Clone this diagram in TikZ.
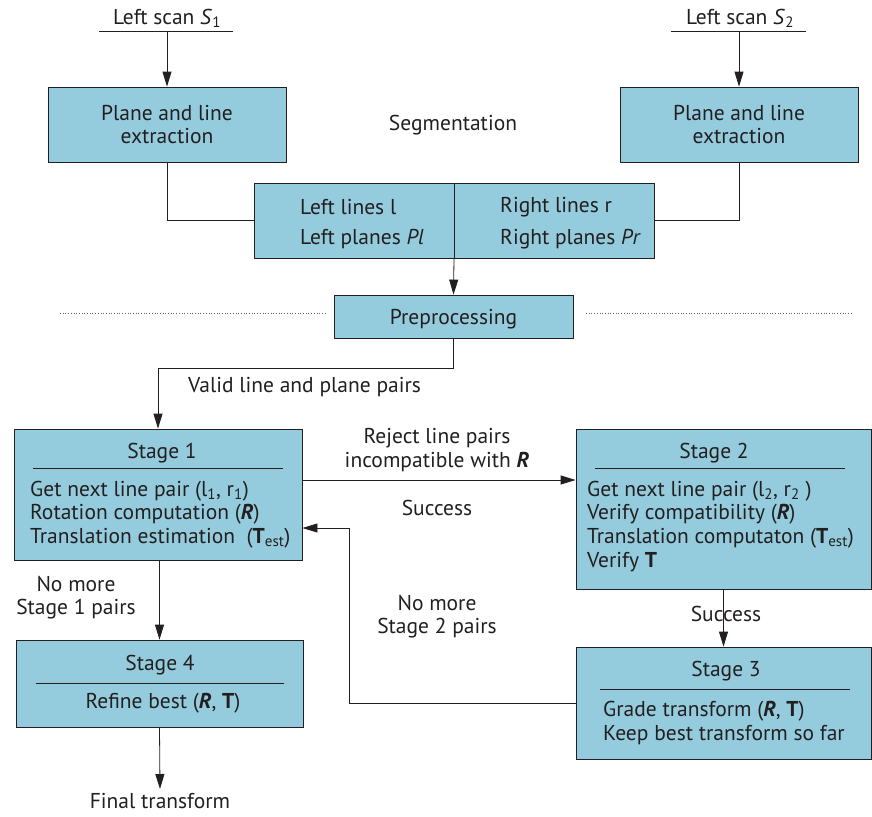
\documentclass[tikz,border=0pt]{standalone}
\usepackage{fontspec}
\setmainfont{PT Sans}
\usetikzlibrary{arrows.meta}
\definecolor{boxblue}{HTML}{94CCDD}
\definecolor{ink}{HTML}{231F20}
\begin{document}
\begin{tikzpicture}[x=1pt,y=-1pt,
  every node/.style={text=ink, font=\fontsize{21.5}{23.5}\selectfont},
  box/.style={draw=ink, fill=boxblue, line width=0.8pt, inner sep=0pt},
  conn/.style={draw=ink, line width=0.8pt},
  arr/.style={conn, -{Triangle[length=15pt,width=9pt]}},
  rulel/.style={draw=ink, line width=0.8pt},
  lbl/.style={align=center, inner sep=0pt, yshift=-1.5pt},
  bodyl/.style={anchor=west, inner sep=0pt, yshift=-1pt}
]
\useasboundingbox (0,0) rectangle (872,816);

% helper coordinates
\coordinate (y480) at (0,480);
\coordinate (y528) at (0,528);
\coordinate (y703) at (0,703);

% top scans
\node[lbl] (s1) at (167,17) {Left scan \textit{S}\textsubscript{1}};
\coordinate (s1u) at (167,31);
\draw[conn] (99,31) -- (233,31);
\node[lbl] (s2) at (740,17) {Left scan \textit{S}\textsubscript{2}};
\coordinate (s2u) at (739,31);
\draw[conn] (671,31) -- (806,31);

% extraction boxes
\node[box, minimum width=238pt, minimum height=75pt, align=center] (ple1) at (167,124.5) {Plane and line\\extraction};
\node[box, minimum width=238pt, minimum height=75pt, align=center] (ple2) at (739,124.5) {Plane and line\\extraction};
\node[lbl] (segl) at (453,124) {Segmentation};

% segmentation result box
\node[box, minimum width=400pt, minimum height=75pt] (seg) at (454,220.5) {};
\draw[conn] (seg.north) -- (seg.south);
\node[bodyl] (ll) at (300,206) {Left lines l};
\node[bodyl] (lp) at (300,238) {Left planes \textit{Pl}};
\node[bodyl] (rl) at (500,206) {Right lines r};
\node[bodyl] (rp) at (500,238) {Right planes \textit{Pr}};

% preprocessing
\node[box, minimum width=239pt, minimum height=43pt, text depth=0pt] (pre) at (453.5,316.5) {Preprocessing};
\draw[ink!70, line width=0.7pt, dash pattern=on 0.7pt off 2pt] (60,313) -- (327,313);
\draw[ink!70, line width=0.7pt, dash pattern=on 0.7pt off 2pt] (586,313) -- (852,313);

% stage boxes
\node[box, minimum width=288pt, minimum height=131pt] (st1) at (158,494.5) {};
\node[box, minimum width=295pt, minimum height=160pt] (st2) at (723.5,509) {};
\node[box, minimum width=295pt, minimum height=112pt] (st3) at (723.5,703) {};
\node[box, minimum width=287pt, minimum height=87pt] (st4) at (159.5,683.5) {};

% stage 1 content
\node[lbl] (t1) at (162,452) {Stage 1};
\draw[rulel] (33,468) -- (283,468);
\node[bodyl] (b11) at (30,490) {Get next line pair (l\textsubscript{1}, r\textsubscript{1})};
\node[bodyl] (b12) at (30,513) {Rotation computation (\textbf{\textit{R}})};
\node[bodyl] (b13) at (30,537) {Translation estimation~~(\textbf{T}\textsubscript{est})};

% stage 2 content
\node[lbl] (t2) at (714,452) {Stage 2};
\draw[rulel] (595,468) -- (845,468);
\node[bodyl] (b21) at (587,490) {Get next line pair (l\textsubscript{2}, r\textsubscript{2} )};
\node[bodyl] (b22) at (587,513) {Verify compatibility (\textbf{\textit{R}})};
\node[bodyl] (b23) at (587,537) {Translation computaton (\textbf{T}\textsubscript{est})};
\node[bodyl] (b24) at (587,561) {Verify \textbf{T}};

% stage 3 content
\node[lbl] (t3) at (726,670) {Stage 3};
\draw[rulel] (600,689) -- (850,689);
\node[bodyl] (b31) at (603,710) {Grade transform (\textbf{\textit{R}}, \textbf{T})};
\node[bodyl] (b32) at (603,734) {Keep best transform so far};

% stage 4 content
\node[lbl] (t4) at (160,664) {Stage 4};
\draw[rulel] (36,683) -- (284,683);
\node[lbl] (b41) at (163,702) {Refine best (\textbf{\textit{R}}, \textbf{T})};

% final
\node[align=center, inner sep=0pt] (fin) at (160,801) {Final transform};
\coordinate (finn) at (160,789);

% connectors
\draw[arr] (s1u) -- (ple1.north);
\draw[arr] (s2u) -- (ple2.north);
\draw[conn] (ple1.south) |- (seg.west);
\draw[conn] (ple2.south) |- (seg.east);
\draw[arr] (seg.south) -- (pre.north);
\draw[arr] (pre.south) -- ++(0,30) -| (st1.north);
\node[anchor=west, inner sep=0pt, yshift=-1.5pt] (valid) at (188,386) {Valid line and plane pairs};

\draw[arr] (st1.east |- y480) -- (st2.west |- y480);
\node[lbl] (rej) at (437,448.5) {Reject line pairs\\incompatible with \textbf{\textit{R}}};
\node[lbl] (succ1) at (437,506) {Success};

\draw[arr] (st3.west |- y703) -| (349,528) -- (st1.east |- y528);
\node[lbl] (nm2) at (437,615) {No more\\Stage 2 pairs};

\draw[arr] (st2.south) -- (st3.north);
\node[lbl] (succ2) at (726,612) {Success};

\draw[arr] (st1.south -| st4.north) -- (st4.north);
\node[lbl] (nm1) at (76,596) {No more\\Stage 1 pairs};

\draw[arr] (st4.south) -- (finn);
\end{tikzpicture}
\end{document}
